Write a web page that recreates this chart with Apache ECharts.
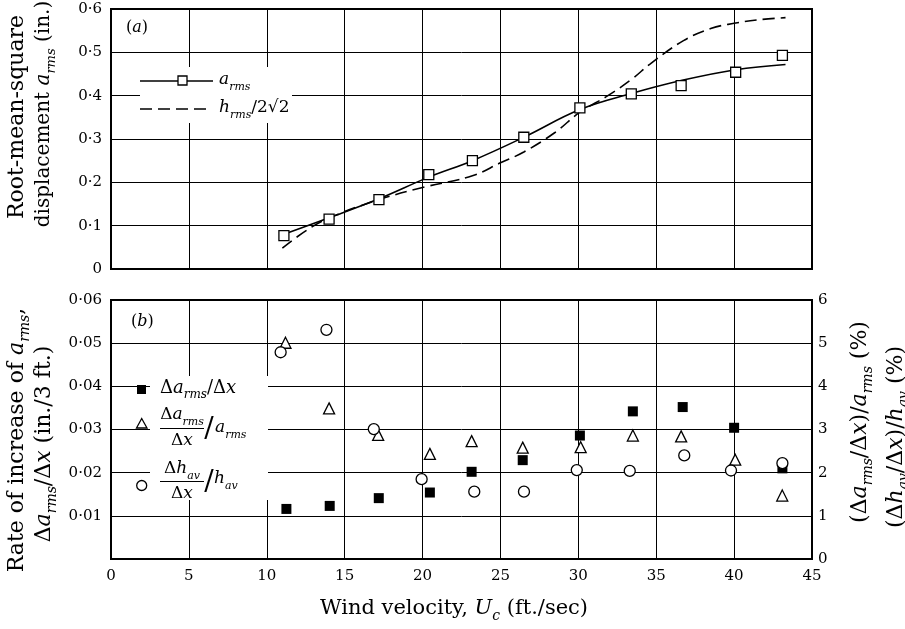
<!DOCTYPE html>
<html>
<head>
<meta charset="utf-8">
<script src="https://cdn.jsdelivr.net/npm/echarts@6.0.0/dist/echarts.min.js"></script>
<style>
html, body { margin: 0; padding: 0; background: #fff; }
#chart { width: 905px; height: 629px; }
</style>
</head>
<body>
<div id="chart"></div>
<script>
// (a) root-mean-square displacement
let windA = [11.1, 14.0, 17.2, 20.4, 23.2, 26.5, 30.1, 33.4, 36.6, 40.1, 43.1];
let aRms = [0.077, 0.115, 0.160, 0.218, 0.250, 0.304, 0.372, 0.404, 0.423, 0.454, 0.493];
// faired curves drawn through the points
let aFitX = [11.1, 14.0, 17.2, 20.4, 23.2, 26.5, 30.1, 33.4, 36.6, 40.1, 43.3];
let aFitY = [0.080, 0.118, 0.162, 0.212, 0.250, 0.304, 0.368, 0.405, 0.435, 0.460, 0.472];
let hFitX = [11.0, 12.5, 14.0, 17.2, 20.0, 23.2, 25.0, 26.5, 28.5, 30.1, 31.9, 33.5, 34.6, 36.75, 38.5, 40.0, 41.5, 43.3];
let hFitY = [0.048, 0.088, 0.118, 0.160, 0.188, 0.215, 0.245, 0.270, 0.315, 0.362, 0.400, 0.440, 0.473, 0.527, 0.555, 0.567, 0.575, 0.580];

// (b) rate of increase
let windRate = [11.26, 14.04, 17.19, 20.47, 23.15, 26.43, 30.1, 33.5, 36.7, 40.0, 43.1];
let rate = [0.0116, 0.0123, 0.0141, 0.0154, 0.0202, 0.0229, 0.0286, 0.0342, 0.0352, 0.0304, 0.0210];
let windRelA = [11.2, 14.0, 17.15, 20.47, 23.15, 26.43, 30.15, 33.5, 36.6, 40.07, 43.09];
let relA = [5.01, 3.49, 2.875, 2.435, 2.73, 2.58, 2.59, 2.86, 2.84, 2.30, 1.47];
let windRelH = [10.89, 13.83, 16.87, 19.94, 23.32, 26.51, 29.9, 33.3, 36.8, 39.8, 43.1];
let relH = [4.79, 5.31, 3.01, 1.85, 1.56, 1.56, 2.06, 2.04, 2.40, 2.05, 2.22];

let serif = 'DejaVu Serif';
let zip = (xs, ys) => xs.map((x, i) => [x, ys[i]]);

function rich(size) {
    let sub = Math.round(size * 0.65);
    return {
        n: { fontFamily: serif, fontSize: size, lineHeight: size + 8, fill: '#000' },
        i: { fontFamily: serif, fontSize: size, fontStyle: 'italic', lineHeight: size + 8, fill: '#000' },
        s: { fontFamily: serif, fontSize: sub, fontStyle: 'italic', lineHeight: sub + 1, verticalAlign: 'bottom', fill: '#000' }
    };
}
function txt(x, y, text, size, align, rot) {
    return {
        type: 'text', x: x, y: y, z: 100, rotation: rot || 0,
        style: {
            text: text, rich: rich(size), fill: '#000',
            font: size + 'px "' + serif + '"',
            align: align || 'center', verticalAlign: 'middle'
        }
    };
}
let up = Math.PI / 2;

let axisText = { fontFamily: serif, fontSize: 15, color: '#000' };
let grid = { lineStyle: { color: '#000', width: 1 } };
let dot = (v, d) => v.toFixed(d).replace('.', '·');

let chart = echarts.init(document.getElementById('chart'));
chart.setOption({
    animation: false,
    backgroundColor: '#fff',
    grid: [
        { left: 111, top: 9, width: 701, height: 260, show: true, borderColor: '#000', borderWidth: 2 },
        { left: 111, top: 300, width: 701, height: 259, show: true, borderColor: '#000', borderWidth: 2 }
    ],
    xAxis: [
        { gridIndex: 0, type: 'value', min: 0, max: 45, interval: 5,
          axisLine: { show: false }, axisTick: { show: false }, axisLabel: { show: false }, splitLine: grid },
        { gridIndex: 1, type: 'value', min: 0, max: 45, interval: 5,
          axisLine: { show: false }, axisTick: { show: false }, splitLine: grid,
          axisLabel: Object.assign({ margin: 10 }, axisText) }
    ],
    yAxis: [
        { gridIndex: 0, type: 'value', min: 0, max: 0.6, interval: 0.1,
          axisLine: { show: false }, axisTick: { show: false }, splitLine: grid,
          axisLabel: Object.assign({ margin: 9, formatter: v => v === 0 ? '0' : dot(v, 1) }, axisText) },
        { gridIndex: 1, type: 'value', min: 0, max: 0.06, interval: 0.01,
          axisLine: { show: false }, axisTick: { show: false }, splitLine: grid,
          axisLabel: Object.assign({ margin: 9, formatter: v => v === 0 ? '' : dot(v, 2) }, axisText) },
        { gridIndex: 1, type: 'value', position: 'right', min: 0, max: 6, interval: 1,
          axisLine: { show: false }, axisTick: { show: false }, splitLine: { show: false },
          axisLabel: Object.assign({ margin: 6 }, axisText) }
    ],
    series: [
        { type: 'line', xAxisIndex: 0, yAxisIndex: 0, data: zip(aFitX, aFitY), smooth: 0.4,
          showSymbol: false, lineStyle: { color: '#000', width: 1.6 }, z: 3 },
        { type: 'line', xAxisIndex: 0, yAxisIndex: 0, data: zip(hFitX, hFitY), smooth: 0.4,
          showSymbol: false, lineStyle: { color: '#000', width: 1.6, type: [12, 6] }, z: 3 },
        { type: 'scatter', xAxisIndex: 0, yAxisIndex: 0, data: zip(windA, aRms), symbol: 'rect', symbolSize: 10,
          itemStyle: { color: '#fff', borderColor: '#000', borderWidth: 1.3, opacity: 1 }, z: 5 },
        { type: 'scatter', xAxisIndex: 1, yAxisIndex: 1, data: zip(windRate, rate), symbol: 'rect', symbolSize: 10,
          itemStyle: { color: '#000', opacity: 1 }, z: 5 },
        { type: 'scatter', xAxisIndex: 1, yAxisIndex: 2, data: zip(windRelA, relA), symbol: 'triangle', symbolSize: 11,
          itemStyle: { color: '#fff', borderColor: '#000', borderWidth: 1.3, opacity: 1 }, z: 6 },
        { type: 'scatter', xAxisIndex: 1, yAxisIndex: 2, data: zip(windRelH, relH), symbol: 'circle', symbolSize: 11,
          itemStyle: { color: '#fff', borderColor: '#000', borderWidth: 1.3, opacity: 1 }, z: 7 }
    ],
    graphic: [
        // panel tags
        txt(126, 28, '{n|(}{i|a}{n|)}', 16, 'left'),
        txt(131, 322, '{n|(}{i|b}{n|)}', 16, 'left'),

        // legend (a)
        { type: 'rect', z: 50, shape: { x: 140, y: 67, width: 152, height: 56 }, style: { fill: '#fff' } },
        { type: 'line', z: 60, shape: { x1: 140, y1: 81, x2: 213, y2: 81 }, style: { stroke: '#000', lineWidth: 1.6 } },
        { type: 'rect', z: 61, shape: { x: 178, y: 76, width: 9, height: 9 }, style: { fill: '#fff', stroke: '#000', lineWidth: 1.3 } },
        txt(219, 80, '{i|a}{s|rms}', 17, 'left'),
        { type: 'line', z: 60, shape: { x1: 140, y1: 109, x2: 212, y2: 109 }, style: { stroke: '#000', lineWidth: 1.6, lineDash: [12, 6] } },
        txt(219, 108, '{i|h}{s|rms}{n|/2√2}', 17, 'left'),

        // legend (b)
        { type: 'rect', z: 50, shape: { x: 150, y: 376, width: 118, height: 124 }, style: { fill: '#fff' } },
        { type: 'rect', z: 60, shape: { x: 137, y: 385, width: 9, height: 9 }, style: { fill: '#000' } },
        txt(160, 388, '{n|Δ}{i|a}{s|rms}{n|/Δ}{i|x}', 18, 'left'),
        { type: 'polygon', z: 60, shape: { points: [[141.7, 418.5], [136.5, 428], [147, 428]] }, style: { fill: '#fff', stroke: '#000', lineWidth: 1.3 } },
        txt(182, 415, '{n|Δ}{i|a}{s|rms}', 17, 'center'),
        { type: 'line', z: 60, shape: { x1: 160, y1: 428.5, x2: 204, y2: 428.5 }, style: { stroke: '#000', lineWidth: 1.2 } },
        txt(182, 441, '{n|Δ}{i|x}', 17, 'center'),
        txt(209, 430, '{n|/}', 28, 'center'),
        txt(215, 428, '{i|a}{s|rms}', 17, 'left'),
        { type: 'circle', z: 60, shape: { cx: 141.7, cy: 485.5, r: 5 }, style: { fill: '#fff', stroke: '#000', lineWidth: 1.3 } },
        txt(182, 469, '{n|Δ}{i|h}{s|av}', 17, 'center'),
        { type: 'line', z: 60, shape: { x1: 160, y1: 481.5, x2: 204, y2: 481.5 }, style: { stroke: '#000', lineWidth: 1.2 } },
        txt(182, 494, '{n|Δ}{i|x}', 17, 'center'),
        txt(209, 483, '{n|/}', 28, 'center'),
        txt(214, 479, '{i|h}{s|av}', 17, 'left'),

        // axis titles
        txt(17, 117, '{n|Root-mean-square}', 22, 'center', up),
        txt(44, 114, '{n|displacement }{i|a}{s|rms}{n| (in.)}', 20, 'center', up),
        txt(17, 440, '{n|Rate of increase of }{i|a}{s|rms}{n|,}', 22, 'center', up),
        txt(44, 444, '{n|Δ}{i|a}{s|rms}{n|/Δ}{i|x}{n| (in./3 ft.)}', 22, 'center', up),
        txt(860, 422, '{n|(Δ}{i|a}{s|rms}{n|/Δ}{i|x}{n|)/}{i|a}{s|rms}{n| (%)}', 22, 'center', up),
        txt(896, 437, '{n|(Δ}{i|h}{s|av}{n|/Δ}{i|x}{n|)/}{i|h}{s|av}{n| (%)}', 22, 'center', up),
        txt(454, 609, '{n|Wind velocity, }{i|U}{s|c}{n| (ft./sec)}', 21, 'center')
    ]
});
</script>
</body>
</html>
